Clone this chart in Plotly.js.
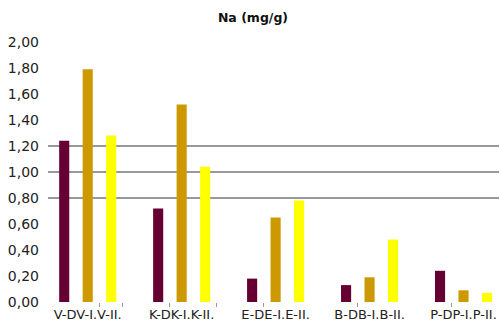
<!DOCTYPE html>
<html>
<head>
<meta charset="utf-8">
<script src="https://cdn.plot.ly/plotly-3.0.1.min.js"></script>
<style>html,body{margin:0;padding:0;background:#fff}#chart{width:500px;height:325px}</style>
</head>
<body>
<div id="chart"></div>
<script>
// Data
var groupLabels = ["V-DV-I.V-II.", "K-DK-I.K-II.", "E-DE-I.E-II.", "B-DB-I.B-II.", "P-DP-I.P-II."];
var seriesNames = ["D", "I.", "II."];
var valuesD   = [1.24, 0.72, 0.18, 0.13, 0.24];
var valuesI   = [1.79, 1.52, 0.65, 0.19, 0.09];
var valuesII  = [1.28, 1.04, 0.78, 0.48, 0.07];
var yTicks    = [0, 0.2, 0.4, 0.6, 0.8, 1.0, 1.2, 1.4, 1.6, 1.8, 2.0];
var gridLines = [0.8, 1.0, 1.2, 2.0];
var minorTicks = [1.5, 2.5, 4.5, 6.5, 8.5, 12.5, 16.5];
var colors    = ["#660033", "#CC9900", "#FFFF00"];

var slot = 4; // 3 bars + 1 empty category per group
function xs(offset){ return groupLabels.map(function(_, i){ return i*slot + offset; }); }
var allValues = [valuesD, valuesI, valuesII];
var traces = allValues.map(function(v, k){
  return {type:'bar', x: xs(k), y: v, name: seriesNames[k], width: 0.43,
          marker:{color: colors[k]}, showlegend:false, hoverinfo:'y'};
});
// invisible trace for the label axis
traces.push({type:'scatter', x:[0], y:[0], yaxis:'y2', mode:'none', showlegend:false, hoverinfo:'skip'});

var font = "DejaVu Sans, sans-serif";
var layout = {
  width: 500, height: 325,
  margin: {l:48, r:1, t:42, b:23, pad:0},
  paper_bgcolor:'#fff', plot_bgcolor:'#fff',
  separators: ',.',
  barmode: 'overlay',
  title: {text:'<b>Na (mg/g)</b>', font:{family:font, size:12.5, color:'#111'}, x:0.506, xanchor:'center', y:0.945, yanchor:'middle'},
  xaxis: {
    range: [-0.69, 18.51], showgrid:false, zeroline:false, showline:false,
    tickmode:'array', tickvals: xs(1), ticktext: groupLabels,
    ticks:'outside', ticklen:0, tickcolor:'rgba(0,0,0,0)',
    tickfont:{family:font, size:13, color:'#222'},
    minor:{ticks:'outside', tickmode:'array', tickvals: minorTicks, ticklen:4, tickcolor:'#999', tickwidth:1}
  },
  yaxis: {
    range:[0, 2.0], tickmode:'array', tickvals: gridLines,
    showticklabels:false, showgrid:true, gridcolor:'#999', gridwidth:1.3,
    zeroline:false, showline:false, ticks:''
  },
  yaxis2: {
    range:[0, 2.0], overlaying:'y', side:'left', tickmode:'array', tickvals: yTicks, tickformat:'.2f',
    showgrid:false, zeroline:false, showline:false, ticks:'',
    ticklabelstandoff: 8,
    tickfont:{family:font, size:14, color:'#222'}
  }
};
Plotly.newPlot('chart', traces, layout, {staticPlot:true, displayModeBar:false});
</script>
</body>
</html>
